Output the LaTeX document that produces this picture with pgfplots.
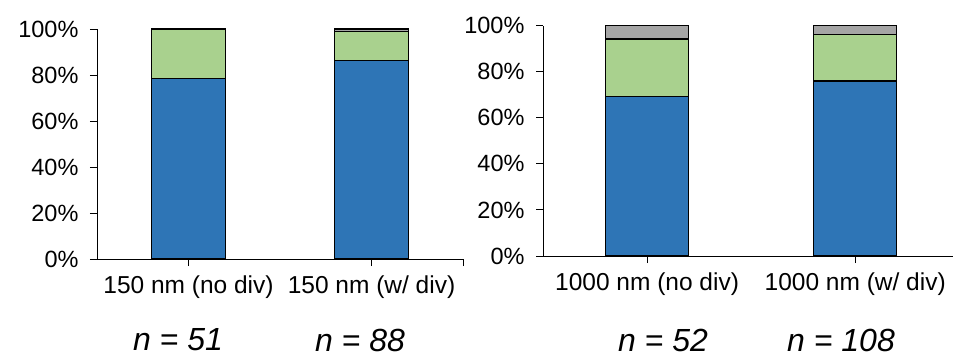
\documentclass[border=0pt]{standalone}
\usepackage{fontspec}
\setmainfont{Liberation Sans}
\usepackage{pgfplots}
\pgfplotsset{compat=1.18}
\definecolor{cblue}{HTML}{2E75B6}
\definecolor{cgreen}{HTML}{A9D18E}
\definecolor{cgray}{HTML}{A5A5A5}
\pgfplotsset{
  panel/.style={
    scale only axis,
    anchor=south west,
    ybar stacked,
    ymin=0, ymax=100,
    ytick={0,20,40,60,80,100},
    yticklabel={\pgfmathprintnumber{\tick}\%},
    /pgf/number format/assume math mode=true,
    axis x line*=bottom,
    axis y line*=left,
    axis line style={black, line width=0.9pt},
    tick align=outside,
    major tick length=7pt,
    tick style={black, line width=0.9pt},
    xtick={0,1},
    yticklabel style={font=\fontsize{23.5}{26}\selectfont, xshift=-8pt},
    xticklabel style={font=\fontsize{24.5}{28}\selectfont, yshift=-6pt},
    clip=false,
    every axis plot/.append style={draw=black, line width=1.3pt},
  }
}
\begin{document}
\begin{tikzpicture}
\begin{axis}[panel,
  at={(97pt,101pt)},
  width=366pt, height=230pt,
  xmin=-0.5, xmax=1.5,
  bar width=74pt,
  extra x ticks={1.5}, extra x tick labels={},
  xticklabels={150 nm (no div),150 nm (w/ div)},
]
\addplot[fill=cblue] coordinates {(0,78.43) (1,86.36)};
\addplot[fill=cgreen] coordinates {(0,21.57) (1,12.50)};
\addplot[fill=cgray] coordinates {(0,0) (1,1.14)};
\end{axis}
\begin{axis}[panel,
  at={(543pt,104pt)},
  width=410pt, height=230.3pt,
  xmin=-0.5, xmax=1.47,
  bar width=83pt,
  xticklabels={1000 nm (no div),1000 nm (w/ div)},
]
\addplot[fill=cblue] coordinates {(0,69.23) (1,75.93)};
\addplot[fill=cgreen] coordinates {(0,25.00) (1,20.37)};
\addplot[fill=cgray] coordinates {(0,5.77) (1,3.70)};
\end{axis}
\begin{scope}[every node/.style={font=\fontsize{32}{36}\selectfont\itshape, inner sep=0pt}]
\node at (178pt,20pt) {n = 51};
\node at (360pt,20pt) {n = 88};
\node at (663pt,20pt) {n = 52};
\node at (841pt,20pt) {n = 108};
\end{scope}
\pgfresetboundingbox
\path[use as bounding box] (0,0) rectangle (953pt,360pt);
\end{tikzpicture}
\end{document}
